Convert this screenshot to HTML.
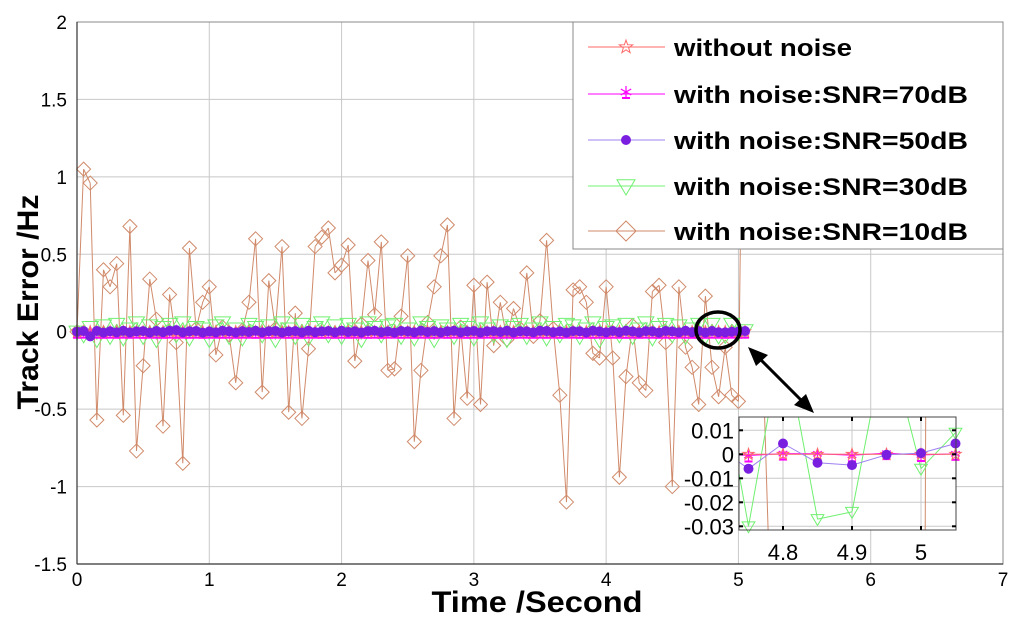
<!DOCTYPE html>
<html><head><meta charset="utf-8"><style>
html,body{margin:0;padding:0;background:#fff;overflow:hidden;width:1024px;height:628px;}
svg{display:block;overflow:hidden;max-height:628px;}
svg text{font-family:"Liberation Sans",Arial,sans-serif;}
</style></head><body>
<svg id="chart" width="1024" height="628" viewBox="0 0 1024 628" xmlns="http://www.w3.org/2000/svg">
<rect x="0" y="0" width="1024" height="628" fill="#fff"/>
<g id="grid"></g>
<g id="series"></g>
<g id="axes"></g>
<text x="0" y="0" transform="translate(38,302) rotate(-90)" text-anchor="middle" font-size="30" font-weight="bold" textLength="215" lengthAdjust="spacingAndGlyphs">Track Error /Hz</text>
<text x="537" y="612" text-anchor="middle" font-size="30" font-weight="bold" textLength="211" lengthAdjust="spacingAndGlyphs">Time /Second</text>
<g id="legend"></g>
<ellipse cx="718" cy="330" rx="22" ry="18" fill="none" stroke="#000" stroke-width="3.5"/>
<g>
<line x1="758" y1="357" x2="804" y2="403" stroke="#000" stroke-width="3"/>
<polygon points="748,347 768,355 756,366" fill="#000"/>
<polygon points="814,413 794,405 806,394" fill="#000"/>
</g>
<g id="inset"></g>
</svg>
<script>
const xTicks=[0,1,2,3,4,5,6,7];
const yTicks=[2,1.5,1,0.5,0,-0.5,-1,-1.5];
const yTickLabels=["2","1.5","1","0.5","0","-0.5","-1","-1.5"];
const dt=0.05;
const snr10=[0,1.05,0.96,-0.57,0.40,0.29,0.44,-0.54,0.68,-0.77,-0.22,0.34,0.08,-0.61,0.24,-0.07,-0.85,0.54,0.02,0.19,0.29,-0.15,0.03,-0.02,-0.33,0.01,0.19,0.60,-0.39,0.33,0.02,0.55,-0.52,0.12,-0.56,-0.11,0.55,0.61,0.67,0.38,0.43,0.56,-0.19,0.05,0.46,0.11,0.58,-0.25,-0.24,0.10,0.49,-0.71,-0.25,0.06,0.29,0.49,0.69,-0.56,0.03,-0.43,0.30,-0.47,0.32,-0.09,0.19,-0.05,0.15,0.02,0.38,-0.03,0.07,0.59,0.02,-0.41,-1.10,0.27,0.29,0.19,-0.14,-0.17,0.29,-0.17,-0.94,-0.29,0.04,-0.33,-0.38,0.26,0.30,-0.07,-1.00,0.29,-0.10,-0.23,-0.47,0.23,-0.23,-0.42,-0.10,-0.41,-0.45,3.0];
const snr30=[0,-0.02,0.03,-0.05,0.04,-0.03,0.05,-0.04,0.02,0.06,-0.03,0.04,-0.05,0.03,0.05,-0.02,0.06,-0.04,0.03,0.02,-0.05,0.04,0.06,-0.03,0.02,-0.04,0.05,0.03,-0.02,0.04,-0.05,0.06,0.02,-0.03,0.05,-0.04,0.03,0.06,-0.02,0.04,-0.03,0.05,0.02,-0.05,0.06,0.03,-0.02,0.04,0.05,-0.03,0.02,-0.04,0.06,0.03,-0.05,0.04,0.02,-0.03,0.05,0.03,-0.04,0.06,0.02,-0.02,0.04,-0.05,0.03,0.05,-0.03,0.02,0.06,-0.04,0.03,-0.02,0.05,0.04,-0.03,0.02,0.06,-0.05,0.03,0.04,-0.02,0.05,-0.03,0.02,0.06,-0.04,0.03,0.05,-0.02,0.04,-0.03,0.02,0.05,-0.03,0.05,-0.027,-0.024,0.05,-0.006,0.009];
const snr50=[0,0.004,-0.03,0.005,-0.006,0.003,-0.004,0.006,-0.005,0.002,0.004,-0.006,0.005,-0.003,0.006,0.01,-0.004,0.003,0.005,-0.006,0.002,-0.004,0.006,0.003,-0.005,0.004,-0.002,0.006,-0.004,0.003,0.005,-0.006,0.002,0.004,-0.005,0.006,-0.003,0.002,0.005,-0.004,0.006,-0.002,0.003,-0.005,0.004,0.006,-0.003,0.002,-0.006,0.005,0.003,-0.004,0.006,-0.002,0.004,-0.005,0.003,0.006,-0.004,0.002,0.005,-0.006,0.003,0.004,-0.002,0.006,-0.005,0.003,0.002,-0.004,0.006,0.005,-0.003,0.002,-0.006,0.004,0.003,-0.005,0.006,0.002,-0.004,0.005,-0.003,0.006,0.002,-0.005,0.004,0.003,-0.006,0.005,0.002,-0.004,0.006,-0.003,0.004,-0.006,0.0045,-0.0035,-0.0045,-0.0002,0.0005,0.0045];
const snr70=[0,0.0005,-0.0004,0.0003,-0.0005,0.0004,-0.0003,0.0005,-0.0002,0.0004,-0.0005,0.0003,0.0002,-0.0004,0.0005,-0.0003,0.0004,-0.0002,0.0003,-0.0005,0.0004,0.0002,-0.0003,0.0005,-0.0004,0.0003,0.0002,-0.0005,0.0004,-0.0003,0.0005,0.0002,-0.0004,0.0003,-0.0005,0.0004,0.0002,-0.0003,0.0005,-0.0004,0.0003,-0.0002,0.0004,0.0005,-0.0003,0.0002,-0.0004,0.0005,0.0003,-0.0002,0.0004,-0.0005,0.0003,0.0002,-0.0004,0.0005,-0.0003,0.0004,0.0002,-0.0005,0.0003,-0.0004,0.0005,0.0002,-0.0003,0.0004,-0.0005,0.0003,0.0002,-0.0004,0.0005,-0.0003,0.0004,-0.0002,0.0003,0.0005,-0.0004,0.0002,-0.0003,0.0004,-0.0005,0.0003,0.0002,-0.0004,0.0005,-0.0003,0.0004,0.0002,-0.0005,0.0003,-0.0004,0.0005,0.0002,-0.0003,0.0004,-0.0005,0.0003,0.0002,-0.0004,0.0005,-0.0003,0.0002];
const noNoise=[0,0,0,0,0,0,0,0,0,0,0,0,0,0,0,0,0,0,0,0,0,0,0,0,0,0,0,0,0,0,0,0,0,0,0,0,0,0,0,0,0,0,0,0,0,0,0,0,0,0,0,0,0,0,0,0,0,0,0,0,0,0,0,0,0,0,0,0,0,0,0,0,0,0,0,0,0,0,0,0,0,0,0,0,0,0,0,0,0,0,0,0,0,0,0,0,0,0,0,0,0,0];
const legendLabels=["without noise","with noise:SNR=70dB","with noise:SNR=50dB","with noise:SNR=30dB","with noise:SNR=10dB"];
const insetXTicks=[4.8,4.9,5];
const insetYTicks=[0.01,0,-0.01,-0.02,-0.03];
const insetYTickLabels=["0.01","0","-0.01","-0.02","-0.03"];

const NS="http://www.w3.org/2000/svg";
function mk(tag,attrs,parent){const e=document.createElementNS(NS,tag);for(const k in attrs)e.setAttribute(k,attrs[k]);parent.appendChild(e);return e;}
const X=v=>77+(v-0)*(1003-77)/7;
const Y=v=>564-(v+1.5)*(564-22)/3.5;
const IX=v=>783+(v-4.8)*690;
const IY=v=>454.3-v*2400;
const MAINBOX={x0:77,y0:22,x1:1003,y1:564};
const INSETBOX={x0:739,y0:417,x1:956,y1:530};

// Liang-Barsky segment clip
function clipSeg(ax,ay,bx,by,b){let t0=0,t1=1;const dx=bx-ax,dy=by-ay;
  const p=[-dx,dx,-dy,dy],q=[ax-b.x0,b.x1-ax,ay-b.y0,b.y1-ay];
  for(let i=0;i<4;i++){if(p[i]===0){if(q[i]<0)return null;}else{const r=q[i]/p[i];if(p[i]<0){if(r>t1)return null;if(r>t0)t0=r;}else{if(r<t0)return null;if(r<t1)t1=r;}}}
  return [ax+t0*dx,ay+t0*dy,ax+t1*dx,ay+t1*dy];}
const inside=(x,y,b,m)=>x>=b.x0-m&&x<=b.x1+m&&y>=b.y0-m&&y<=b.y1+m;

const grid=document.getElementById('grid');
xTicks.forEach(t=>{const l=mk('line',{x1:X(t),x2:X(t),y1:22,y2:564,stroke:'#c8c8c8','stroke-width':1},grid);

});
yTicks.forEach(t=>{const l=mk('line',{x1:77,x2:1003,y1:Y(t),y2:Y(t),stroke:'#c8c8c8','stroke-width':1},grid);

});

const axes=document.getElementById('axes');
mk('rect',{x:77,y:22,width:926,height:542,fill:'none',stroke:'#888','stroke-width':1},axes);
mk('line',{x1:77,x2:77,y1:22,y2:564,stroke:'#333','stroke-width':1.2},axes);
mk('line',{x1:77,x2:1003,y1:564,y2:564,stroke:'#333','stroke-width':1.2},axes);
xTicks.forEach(t=>{const tx=mk('text',{x:X(t),y:586,'text-anchor':'middle','font-size':19},axes);tx.textContent=t;

});
yTicks.forEach((t,i)=>{const tx=mk('text',{x:67,y:Y(t)+7,'text-anchor':'end','font-size':19},axes);tx.textContent=yTickLabels[i];

});

function diamond(g,cx,cy,s,col){return mk('polygon',{points:`${cx},${cy-s} ${cx+s},${cy} ${cx},${cy+s} ${cx-s},${cy}`,fill:'none',stroke:col,'stroke-width':1},g);}
function tri(g,cx,cy,s,col){return mk('polygon',{points:`${cx-s},${cy-s*0.7} ${cx+s},${cy-s*0.7} ${cx},${cy+s}`,fill:'none',stroke:col,'stroke-width':1},g);}
function star(g,cx,cy,r,col){let p=[];for(let k=0;k<10;k++){const a=-Math.PI/2+k*Math.PI/5;const rr=k%2?r*0.4:r;p.push((cx+rr*Math.cos(a)).toFixed(1)+','+(cy+rr*Math.sin(a)).toFixed(1));}return mk('polygon',{points:p.join(' '),fill:'none',stroke:col,'stroke-width':1},g);}
function aster(g,cx,cy,r,col){const gg=mk('g',{},g);for(let k=0;k<3;k++){const a=k*Math.PI/3+Math.PI/2;mk('line',{x1:cx-r*Math.cos(a),y1:cy-r*Math.sin(a),x2:cx+r*Math.cos(a),y2:cy+r*Math.sin(a),stroke:col,'stroke-width':1.2},gg);}mk('line',{x1:cx-4,x2:cx+4,y1:cy+6,y2:cy+6,stroke:col,'stroke-width':2},gg);return gg;}

const C10='#d08a6a',C30='#70f070',C50='#7a1ee0',C50L='#9f80f0',C70='#ff00ff',C0='#ff6a6a';
function drawAll(g,xf,yf,scale,box){
  const pl=(arr,col,w)=>{let d='';for(let i=0;i<arr.length-1;i++){const s=clipSeg(xf(i*dt),yf(arr[i]),xf((i+1)*dt),yf(arr[i+1]),box);if(s)d+=`M${s[0].toFixed(1)},${s[1].toFixed(1)}L${s[2].toFixed(1)},${s[3].toFixed(1)}`;}
    return mk('path',{d:d||'M0,0',fill:'none',stroke:col,'stroke-width':w},g);};
  const pts=(arr,fn)=>arr.forEach((v,i)=>{const cx=xf(i*dt),cy=yf(v);if(inside(cx,cy,box,0))fn(cx,cy);});
  let l=pl(snr10,C10,1);
  
  
  pts(snr10,(cx,cy)=>{const m=diamond(g,cx,cy,scale*7,C10);
    
    });
  l=pl(snr30,C30,1);
  
  
  pts(snr30,(cx,cy)=>{const m=tri(g,cx,cy,scale*8,C30);
    
    });
  l=pl(snr70,C70,1);
  
  
  pts(snr70,(cx,cy)=>{const m=aster(g,cx,cy,5,C70);
    
    });
  l=pl(noNoise,C0,1);
  
  
  pts(noNoise,(cx,cy)=>{const m=star(g,cx,cy,6,C0);
    
    });
  l=pl(snr50,C50L,1);
  
  
  pts(snr50,(cx,cy)=>{const m=mk('circle',{cx:cx,cy:cy,r:5,fill:C50},g);
    
    });
}
drawAll(document.getElementById('series'),X,Y,1,MAINBOX);

// legend
const lg=document.getElementById('legend');
mk('rect',{x:573,y:22,width:430,height:227,fill:'#fff',stroke:'#888','stroke-width':1},lg);
const ly=[47,94,140,186,231];
const lw=[178,294,294,294,294];
legendLabels.forEach((lab,i)=>{
  const g=mk('g',{},lg);
  
  
  const y=ly[i];const col=[C0,C70,C50L,C30,C10][i];
  mk('line',{x1:588,x2:665,y1:y,y2:y,stroke:col,'stroke-width':1},g);
  if(i==0)star(g,626,y,7,C0);
  if(i==1)aster(g,626,y-2,6,C70);
  if(i==2)mk('circle',{cx:626,cy:y,r:5,fill:C50},g);
  if(i==3)tri(g,626,y,9,C30);
  if(i==4)diamond(g,626,y,10,C10);
  const t=mk('text',{x:674,y:y+9,'font-size':24,'font-weight':'bold',textLength:lw[i],lengthAdjust:'spacingAndGlyphs'},g);t.textContent=lab;
});

// inset
const ins=document.getElementById('inset');
mk('rect',{x:739,y:417,width:217,height:113,fill:'#fff'},ins);
const ig=mk('g',{},ins);
insetXTicks.forEach(t=>{mk('line',{x1:IX(t),x2:IX(t),y1:417,y2:530,stroke:'#c8c8c8'},ig);});
insetYTicks.forEach(t=>{mk('line',{x1:739,x2:956,y1:IY(t),y2:IY(t),stroke:'#c8c8c8'},ig);});
const ic=mk('g',{},ins);
drawAll(ic,IX,IY,0.8,INSETBOX);
mk('rect',{x:739,y:417,width:217,height:113,fill:'none',stroke:'#444','stroke-width':1},ins);
insetXTicks.forEach(t=>{const tx=mk('text',{x:IX(t),y:560,'text-anchor':'middle','font-size':22},ins);tx.textContent=t;
  
  
  mk('line',{x1:IX(t),x2:IX(t),y1:417,y2:421,stroke:'#000','stroke-width':2},ins);
  mk('line',{x1:IX(t),x2:IX(t),y1:526,y2:530,stroke:'#000','stroke-width':2},ins);});
insetYTicks.forEach((t,i)=>{const tx=mk('text',{x:734,y:IY(t)+8,'text-anchor':'end','font-size':22},ins);tx.textContent=insetYTickLabels[i];
  
  
  mk('line',{x1:739,x2:743,y1:IY(t),y2:IY(t),stroke:'#000','stroke-width':2},ins);
  mk('line',{x1:952,x2:956,y1:IY(t),y2:IY(t),stroke:'#000','stroke-width':2},ins);});
</script>
</body></html>
